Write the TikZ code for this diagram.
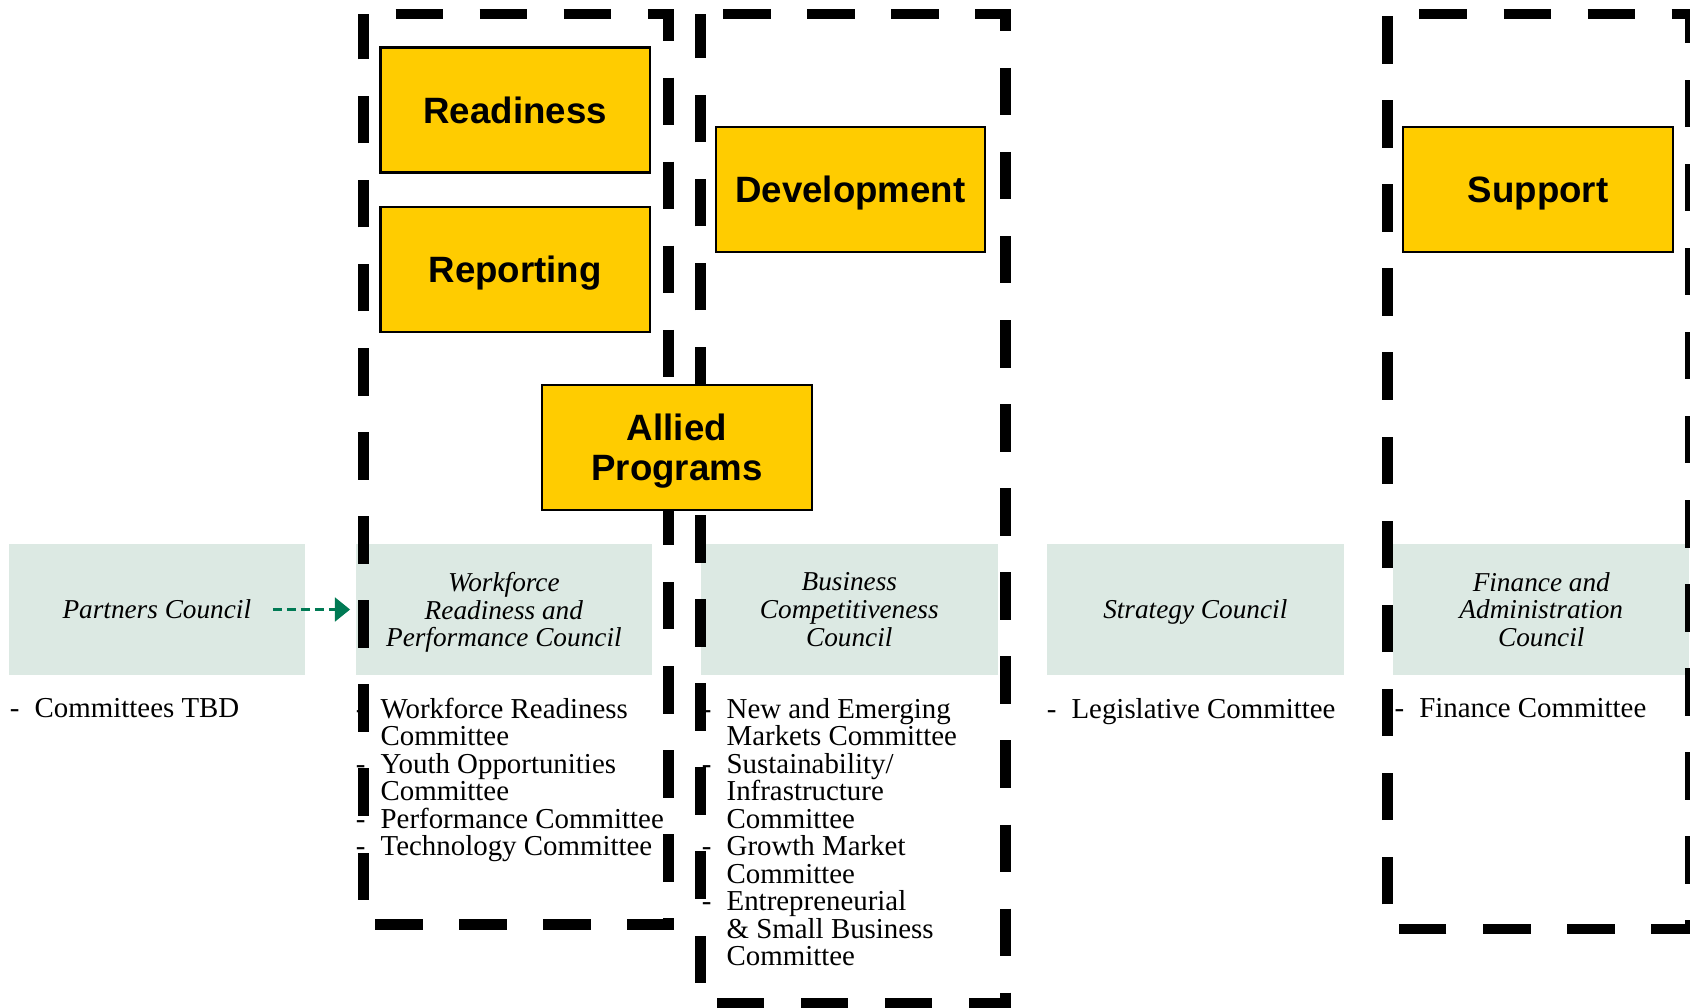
\documentclass[tikz,border=0pt]{standalone}
\usepackage{fontspec}
\setmainfont{Liberation Serif}
\setsansfont{Liberation Sans}
\usepackage{tikz}
\usetikzlibrary{arrows.meta}
\definecolor{councilfill}{RGB}{220,233,227}
\definecolor{areayellow}{RGB}{255,204,0}
\definecolor{linkgreen}{RGB}{0,122,84}
\newcommand{\listdash}{\llap{-\hspace{14pt}}}
\newcommand{\councilfont}{\fontsize{25.3}{25.6}\selectfont\setlength{\lineskiplimit}{-20pt}\itshape}
\newcommand{\committeefont}{\fontsize{26.8}{25.5}\selectfont\setlength{\lineskiplimit}{-20pt}}

\begin{document}
\begin{tikzpicture}[x=1pt, y=-1pt,
    council/.style={fill=councilfill, minimum width=275pt, minimum height=121pt,
        inner sep=0pt, align=center, text depth=-4pt, font=\councilfont},
    areabox/.style={draw=black, line width=2pt, fill=areayellow,
        minimum width=250pt, minimum height=116pt, inner sep=0pt,
        align=center, text depth=-4pt,
        font=\sffamily\bfseries\fontsize{34}{36.5}\selectfont},
    committees/.style={anchor=north west, inner sep=0pt, align=left,
        font=\committeefont},
    branchbox/.style={line width=10pt, dash pattern=on 44pt off 34pt},
    partnerlink/.style={linkgreen, line width=2.5pt, dash pattern=on 8pt off 5pt,
        -{Triangle[length=14pt,width=22pt]}}
]
    \useasboundingbox (0,0) rectangle (1568,935);
    \fill[white] (0,0) rectangle (1568,935);
    \clip (0,0) rectangle (1568,935);

    % Councils
    \node[council] (partners)  at (145.5,565.5) {Partners Council};
    \node[council] (workforce) at (467.5,565.5) {Workforce\\Readiness and\\Performance Council};
    \node[council] (business)  at (788,565.5)   {Business\\Competitiveness\\Council};
    \node[council] (strategy)  at (1109,565.5)  {Strategy Council};
    \node[council] (finance)   at (1430,565.5)  {Finance and\\Administration\\Council};

    % Committees
    \node[committees] (partnerslist)  at (32,647.5)   {\listdash Committees TBD};
    \node[committees] (workforcelist) at (353,647.5)  {\listdash Workforce Readiness\\Committee\\
        \listdash Youth Opportunities\\Committee\\\listdash Performance Committee\\
        \listdash Technology Committee};
    \node[committees] (businesslist)  at (674,647.5)  {\listdash New and Emerging\\Markets Committee\\
        \listdash Sustainability/\\Infrastructure\\Committee\\\listdash Growth Market\\Committee\\
        \listdash Entrepreneurial\\\& Small Business\\Committee};
    \node[committees] (strategylist)  at (994,647.5)  {\listdash Legislative Committee};
    \node[committees] (financelist)   at (1316.6,647.5) {\listdash Finance Committee};

    % Link
    \draw[partnerlink] ([xshift=-30pt]partners.east) -- ([xshift=-5pt]workforce.west);

    % Dashed groups
    \draw[branchbox, dash phase=48pt] (337,13) -- (620,13) -- (620,858) -- (337,858) -- cycle;
    \draw[branchbox, dash phase=57pt] (650,13) -- (933,13) -- (933,931) -- (650,931) -- cycle;
    \draw[branchbox, dash phase=48pt] (1287,13) -- (1568,13) -- (1568,862) -- (1287,862) -- cycle;

    % Areas
    \node[areabox] (readiness)   at (478,102)  {Readiness};
    \node[areabox] (reporting)   at (478,250)  {Reporting};
    \node[areabox] (development) at (789,176)  {Development};
    \node[areabox] (allied)      at (628,415)  {Allied\\Programs};
    \node[areabox] (support)     at (1427,176) {Support};
\end{tikzpicture}
\end{document}
